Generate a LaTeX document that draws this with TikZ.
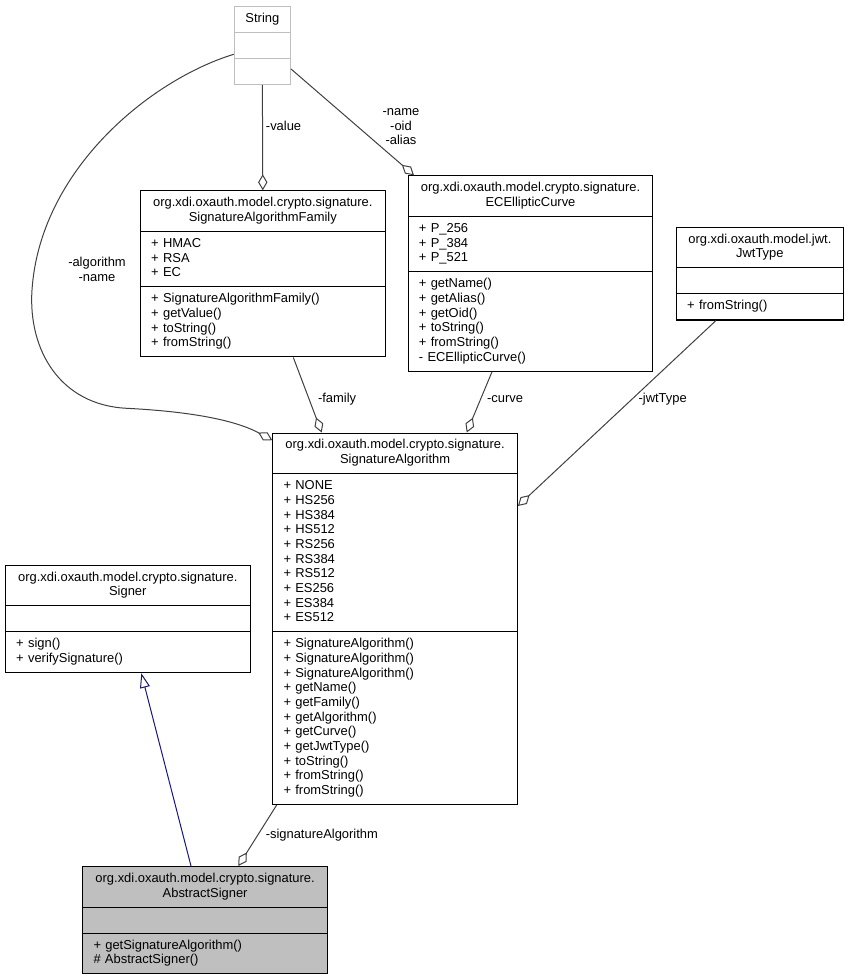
\documentclass[tikz,border=0pt]{standalone}
\usepackage{fontspec}
\setmainfont{Liberation Sans}
\usetikzlibrary{shapes.multipart,arrows.meta,calc}
\definecolor{grey25}{HTML}{404040}
\definecolor{grey75}{HTML}{BFBFBF}
\definecolor{navyedge}{HTML}{191970}
\begin{document}
\begin{tikzpicture}[x=0.75pt,y=-0.75pt,
	classbox/.style={draw=black,line width=0.8pt,rectangle split,rectangle split parts=3,
		text width=167.4pt,inner xsep=8pt,inner ysep=3.86pt,
		font=\fontsize{9.7pt}{11pt}\selectfont},
	edgelabel/.style={inner sep=0pt,font=\fontsize{9.7pt}{11pt}\selectfont},
	aggr/.style={draw=grey25,line width=0.75pt,-{Diamond[open,length=12pt,width=7pt]}},
	inherit/.style={draw=navyedge,line width=0.75pt,-{Triangle[open,length=11pt,width=7.5pt]}}]
	\useasboundingbox (0,0) rectangle (848,977);

	% classes
	\node [classbox,draw=grey75,text width=26.2pt,anchor=north west] (StringBox) at (233.7,5.7)
		{\centering\strut String\strut\par \nodepart{two}\strut \nodepart{three}\strut};
	\node [classbox,anchor=north west] (FamilyBox) at (140,190.3)
		{\centering\strut org.xdi.oxauth.model.crypto.signature.\\SignatureAlgorithmFamily\strut\par
		\nodepart{two}\strut + HMAC\\+ RSA\\+ EC\strut
		\nodepart{three}\strut + SignatureAlgorithmFamily()\\+ getValue()\\+ toString()\\+ fromString()\strut};
	\node [classbox,anchor=north west] (CurveBox) at (407.7,175.3)
		{\centering\strut org.xdi.oxauth.model.crypto.signature.\\ECEllipticCurve\strut\par
		\nodepart{two}\strut + P\_256\\+ P\_384\\+ P\_521\strut
		\nodepart{three}\strut + getName()\\+ getAlias()\\+ getOid()\\+ toString()\\+ fromString()\\- ECEllipticCurve()\strut};
	\node [classbox,text width=109pt,anchor=north west] (JwtBox) at (676,226.7)
		{\centering\strut org.xdi.oxauth.model.jwt.\\JwtType\strut\par
		\nodepart{two}\strut
		\nodepart{three}\strut + fromString()\strut};
	\node [classbox,anchor=north west] (AlgoBox) at (272.3,432.5)
		{\centering\strut org.xdi.oxauth.model.crypto.signature.\\SignatureAlgorithm\strut\par
		\nodepart{two}\strut + NONE\\+ HS256\\+ HS384\\+ HS512\\+ RS256\\+ RS384\\+ RS512\\+ ES256\\+ ES384\\+ ES512\strut
		\nodepart{three}\strut + SignatureAlgorithm()\\+ SignatureAlgorithm()\\+ SignatureAlgorithm()\\+ getName()\\+ getFamily()\\+ getAlgorithm()\\+ getCurve()\\+ getJwtType()\\+ toString()\\+ fromString()\\+ fromString()\strut};
	\node [classbox,anchor=north west] (SignerBox) at (5,564.7)
		{\centering\strut org.xdi.oxauth.model.crypto.signature.\\Signer\strut\par
		\nodepart{two}\strut
		\nodepart{three}\strut + sign()\\+ verifySignature()\strut};
	\node [classbox,fill=grey75,anchor=north west] (AbstractBox) at (82.3,866)
		{\centering\strut org.xdi.oxauth.model.crypto.signature.\\AbstractSigner\strut\par
		\nodepart{two}\strut
		\nodepart{three}\strut + getSignatureAlgorithm()\\\# AbstractSigner()\strut};

	% members
	\draw [aggr] (StringBox.south) -- (FamilyBox.north);
	\draw [aggr] ($(StringBox.north east)+(0,63.3)$) -- ($(CurveBox.north west)+(6.3,0)$);
	\draw [aggr] ($(StringBox.north west)+(0,48.6)$) .. controls (150,80) and (40,170) .. (32,290)
		.. controls (28,350) and (60,405) .. (126.7,408.3)
		.. controls (190,411.5) and (235,420) .. ($(AlgoBox.north west)+(0,7.7)$);
	\draw [aggr] ($(FamilyBox.south west)+(153.3,0)$) -- ($(AlgoBox.north west)+(49.4,0)$);
	\draw [aggr] ($(CurveBox.south west)+(84.3,0)$) -- ($(AlgoBox.north west)+(194.4,0)$);
	\draw [aggr] ($(JwtBox.south west)+(40,0)$) -- ($(AlgoBox.north east)+(0,73.5)$);
	\draw [aggr] ($(AlgoBox.south west)+(4.4,0)$) -- ($(AbstractBox.north west)+(156,0)$);
	\draw [inherit] ($(AbstractBox.north west)+(108.7,0)$) -- ($(SignerBox.south west)+(136.3,0)$);

	\node [edgelabel,anchor=west] (ValueLabel) at (265.7,127.7) {\strut -value};
	\node [edgelabel,align=center] (NameLabel) at (401,127.3) {\strut -name\\-oid\\-alias\strut};
	\node [edgelabel,align=center] (AlgorithmLabel) at (97,270.8) {\strut -algorithm\\-name\strut};
	\node [edgelabel,anchor=west] (FamilyLabel) at (317.8,400) {\strut -family};
	\node [edgelabel,anchor=west] (CurveLabel) at (486.8,400) {\strut -curve};
	\node [edgelabel,anchor=west] (JwtLabel) at (638.3,399.3) {\strut -jwtType};
	\node [edgelabel,anchor=west] (SignatureLabel) at (265.5,836) {\strut -signatureAlgorithm};
\end{tikzpicture}
\end{document}
